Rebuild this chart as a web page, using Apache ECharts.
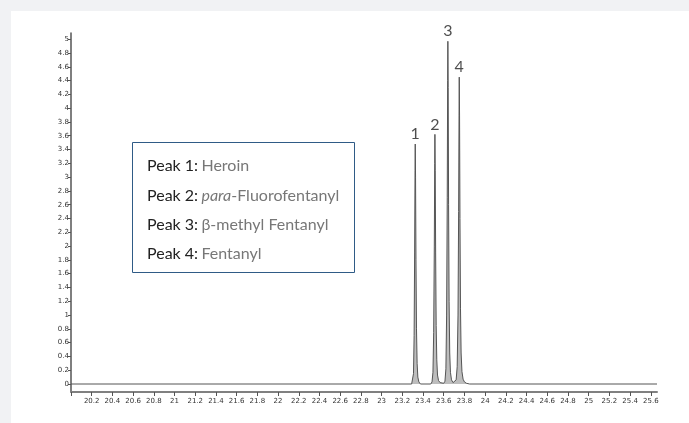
<!DOCTYPE html>
<html>
<head>
<meta charset="utf-8">
<script src="https://cdn.jsdelivr.net/npm/echarts@6/dist/echarts.min.js"></script>
<style>
html,body{margin:0;padding:0;background:#f1f2f4;width:689px;height:423px;overflow:hidden;}
#c{position:absolute;left:11px;top:11px;width:678px;height:412px;background:#ffffff;}
</style>
</head>
<body>
<div id="c"></div>
<script>
// X axis tick values (minutes)
var xTickValues = [20,20.2,20.4,20.6,20.8,21,21.2,21.4,21.6,21.8,22,22.2,22.4,22.6,22.8,23,23.2,23.4,23.6,23.8,24,24.2,24.4,24.6,24.8,25,25.2,25.4,25.6];
var xLabelValues = [20.2,20.4,20.6,20.8,21,21.2,21.4,21.6,21.8,22,22.2,22.4,22.6,22.8,23,23.2,23.4,23.6,23.8,24,24.2,24.4,24.6,24.8,25,25.2,25.4,25.6];
// Y axis tick values (signal)
var yTickValues = [0,0.2,0.4,0.6,0.8,1,1.2,1.4,1.6,1.8,2,2.2,2.4,2.6,2.8,3,3.2,3.4,3.6,3.8,4,4.2,4.4,4.6,4.8,5];

// Chromatogram trace [time, signal]
var traceStart = [[20,0]];
var peak1Trace = [[23.29,0],[23.30,0.02],[23.308,0.15],[23.314,0.7],[23.319,1.9],[23.323,3.1],[23.325,3.48],[23.328,3.0],[23.332,1.8],[23.337,0.8],[23.343,0.3],[23.35,0.1],[23.36,0.03],[23.375,0]];
var peak2Trace = [[23.475,0],[23.487,0.03],[23.496,0.17],[23.503,0.75],[23.509,2.0],[23.513,3.2],[23.515,3.62],[23.518,3.1],[23.522,1.9],[23.527,0.85],[23.533,0.35],[23.54,0.13],[23.55,0.05],[23.565,0.02],[23.58,0.01]];
var peak3Trace = [[23.60,0.01],[23.612,0.04],[23.621,0.22],[23.628,1.0],[23.634,2.7],[23.638,4.4],[23.64,4.97],[23.643,4.3],[23.647,2.6],[23.652,1.2],[23.658,0.45],[23.665,0.17],[23.675,0.06],[23.69,0.02]];
var peak4Trace = [[23.705,0.02],[23.72,0.06],[23.73,0.25],[23.738,1.0],[23.744,2.5],[23.748,3.9],[23.75,4.45],[23.753,3.9],[23.757,2.4],[23.762,1.1],[23.768,0.45],[23.776,0.18],[23.787,0.07],[23.80,0.03],[23.82,0.01],[23.85,0]];
var traceEnd = [[25.66,0]];

// Peak labels
var peakTimes = [23.325,23.515,23.64,23.75];
var peakHeights = [3.48,3.62,4.97,4.45];
var peakLabels = ['1','2','3','4'];

// Legend box entries
var legendKeys = ['Peak 1:','Peak 2:','Peak 3:','Peak 4:'];
var legendNames = ['{g|Heroin}','{i|para}{g|-Fluorofentanyl}','{g|\u03b2-methyl Fentanyl}','{g|Fentanyl}'];

var trace = [].concat(traceStart, peak1Trace, peak2Trace, peak3Trace, peak4Trace, traceEnd);
var labelData = peakTimes.map(function(t,i){return [t, peakHeights[i], peakLabels[i]];});

var chart = echarts.init(document.getElementById('c'));
var graphics = [{
  type:'rect', left:121, top:131, z:10,
  shape:{width:222,height:130},
  style:{fill:'#ffffff',stroke:'#2f5b86',lineWidth:1}
}];
legendKeys.forEach(function(k,i){
  graphics.push({
    type:'text', left:136, top:147 + i*29.4, z:11,
    style:{
      text:'{b|'+k+'} '+legendNames[i],
      rich:{
        b:{fontFamily:'Lato',fontSize:16,fill:'#222222',color:'#222222'},
        g:{fontFamily:'Lato',fontSize:16,fill:'#777777',color:'#777777'},
        i:{fontFamily:'Lato',fontSize:16,fontStyle:'italic',fill:'#777777',color:'#777777'}
      }
    }
  });
});

chart.setOption({
  animation:false,
  backgroundColor:'#ffffff',
  grid:{left:60,top:22,right:32,bottom:31},
  xAxis:{
    type:'value', min:20, max:25.66,
    axisLine:{show:true,onZero:false,lineStyle:{color:'#808080',width:2}},
    axisTick:{show:true,length:4,customValues:xTickValues,lineStyle:{color:'#555'}},
    axisLabel:{customValues:xLabelValues,fontFamily:'DejaVu Sans',fontSize:7,color:'#333',margin:6},
    splitLine:{show:false}
  },
  yAxis:{
    type:'value', min:-0.116, max:5.09,
    axisLine:{show:true,onZero:false,lineStyle:{color:'#555',width:1.5}},
    axisTick:{show:true,length:3,customValues:yTickValues,lineStyle:{color:'#555'}},
    axisLabel:{customValues:yTickValues,fontFamily:'DejaVu Sans',fontSize:7,color:'#333',margin:2},
    splitLine:{show:false}
  },
  series:[{
    type:'line', data:trace, symbol:'none', smooth:false,
    lineStyle:{color:'#555555',width:1},
    areaStyle:{color:'#bdbdbd',opacity:1,origin:0}
  },{
    type:'scatter', data:labelData, symbolSize:0, silent:true,
    label:{show:true,position:'top',distance:2,formatter:function(p){return p.value[2];},
      fontFamily:'Lato',fontSize:16,color:'#222'}
  }],
  graphic:graphics
});
</script>
</body>
</html>
